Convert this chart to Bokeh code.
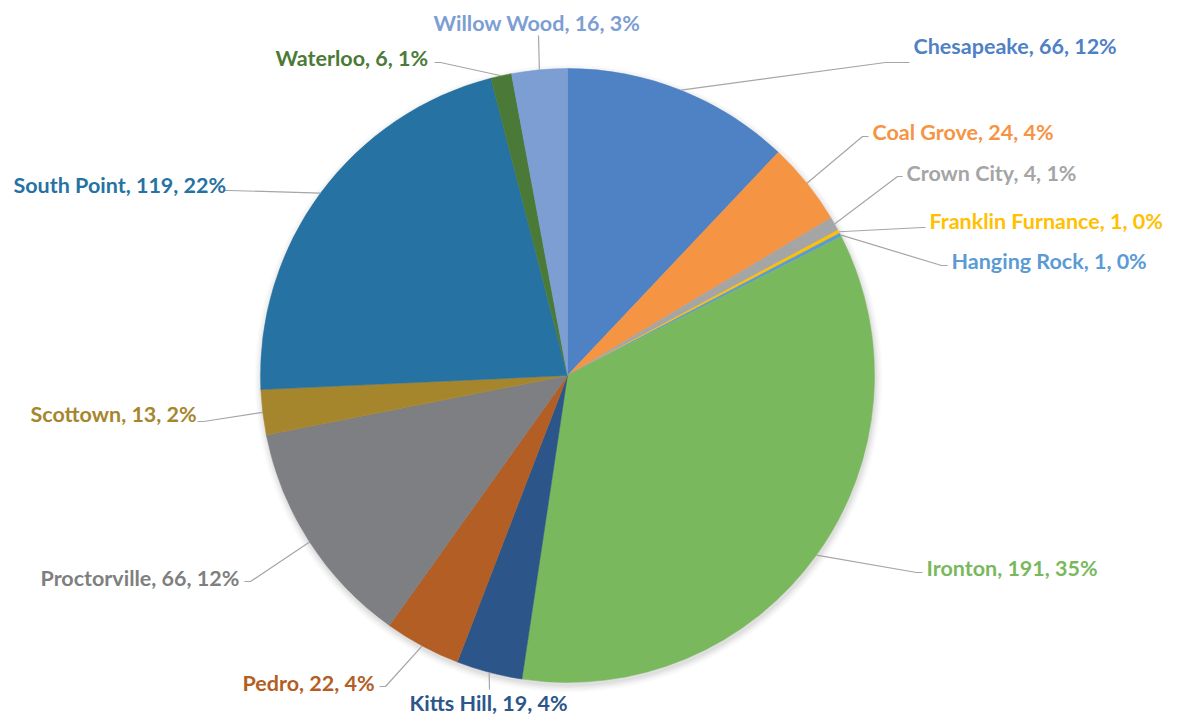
import math
from bokeh.plotting import figure
from bokeh.models import Range1d, ColumnDataSource
from bokeh.core.properties import value
from bokeh.embed import file_html
from bokeh.resources import INLINE

# ---- data ----
names = ["Chesapeake", "Coal Grove", "Crown City", "Franklin Furnance", "Hanging Rock",
         "Ironton", "Kitts Hill", "Pedro", "Proctorville", "Scottown", "South Point",
         "Waterloo", "Willow Wood"]
counts = [66, 24, 4, 1, 1, 191, 19, 22, 66, 13, 119, 6, 16]

# ---- styles ----
colors = ["#4F81C5", "#F59443", "#A5A5A5", "#FFC000", "#5B9BD5", "#7AB85E", "#2C5689",
          "#B25E24", "#7E7F83", "#A6862C", "#2672A2", "#4B7A38", "#7C9ED3"]
label_colors = ["#4F81C5", "#F59443", "#A5A5A5", "#FFC000", "#5B9BD5", "#7AB85E", "#2C5689",
                "#B25E24", "#7F7F7F", "#A6862C", "#2672A2", "#4B7A38", "#7C9ED3"]

W, H = 1182, 717


def Y(img_y):
    return H - img_y


# layout: label anchor (left x, center y) and leader elbow, in page pixels
label_pos = {
    "Chesapeake": (913, 45, (885, 62)),
    "Coal Grove": (872, 131, (862, 136)),
    "Crown City": (906, 172, (897, 176)),
    "Franklin Furnance": (929, 220, (922, 227)),
    "Hanging Rock": (951, 260, (941, 265)),
    "Ironton": (926, 567, (916, 572)),
    "Kitts Hill": (409, 702, (489, 689)),
    "Pedro": (242, 682, (385, 686)),
    "Proctorville": (40, 577, (250, 581)),
    "Scottown": (30, 413, (203, 421)),
    "South Point": (13, 184, (229, 190)),
    "Waterloo": (275, 57, (440, 62)),
    "Willow Wood": (433, 22, (538, 35)),
}

cx, cy, r = 567, Y(375), 307

p = figure(width=W, height=H, output_backend="svg", toolbar_location=None,
           x_range=Range1d(0, W), y_range=Range1d(0, H),
           min_border=0, outline_line_color=None)
p.axis.visible = False
p.grid.visible = False
p.background_fill_color = "white"
p.border_fill_color = "white"

# soft shadow
for i, a in enumerate([0.035, 0.03, 0.025, 0.02, 0.015]):
    p.circle(x=[cx + 1], y=[cy - 3], radius=r + 1 + i * 1.5, radius_units="data",
             fill_color="black", fill_alpha=a, line_color=None)

total = sum(counts)

# percentages rounded like the spreadsheet (largest remainder, totals 100)
raw = [100 * c / total for c in counts]
pcts = [math.floor(v) for v in raw]
order = sorted(range(len(raw)), key=lambda i: raw[i] - pcts[i], reverse=True)
for i in order[:100 - sum(pcts)]:
    pcts[i] += 1

starts, ends, mids = [], [], []
acc = 0.0
for c in counts:
    a0 = math.pi / 2 - 2 * math.pi * acc / total
    acc += c
    a1 = math.pi / 2 - 2 * math.pi * acc / total
    starts.append(a1)
    ends.append(a0)
    mids.append((a0 + a1) / 2)

src = ColumnDataSource(dict(start=starts, end=ends, color=colors))
p.wedge(x=cx, y=cy, radius=r, start_angle="start", end_angle="end",
        fill_color="color", line_color="color", line_width=0.5, source=src)

# leader lines and labels
tx, ty, texts, tcol = [], [], [], []
for n, c, pc, m, col in zip(names, counts, pcts, mids, label_colors):
    x0, y0, (ex, ey) = label_pos[n]
    px, py = cx + r * math.cos(m), cy + r * math.sin(m)
    if n in ("Kitts Hill", "Willow Wood"):
        xs = [px, ex]
        ys = [py, Y(ey)]
    elif x0 > cx:
        xs = [px, ex, x0 - 4]
        ys = [py, Y(ey), Y(ey)]
    else:
        xs = [px, ex, ex - 6]
        ys = [py, Y(ey), Y(ey)]
    p.line(xs, ys, line_color="#A6A6A6", line_width=1.2)
    tx.append(x0)
    ty.append(Y(y0))
    texts.append(f"{n}, {c}, {pc}%")
    tcol.append(col)

tsrc = ColumnDataSource(dict(x=tx, y=ty, text=texts, color=tcol))
p.text(x="x", y="y", text="text", text_color="color", source=tsrc,
       text_font=value("Lato"), text_font_style="bold", text_font_size="21.5px",
       text_align="left", text_baseline="middle")

open("out.html", "w").write(file_html(p, INLINE))
